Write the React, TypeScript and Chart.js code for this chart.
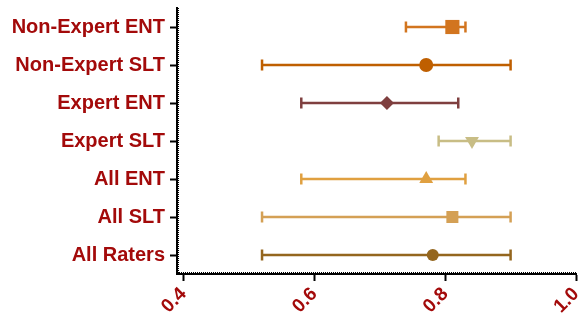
import React, { useEffect, useRef } from "react";
import { Chart, registerables } from "chart.js";

Chart.register(...registerables);

const categories = [
  "Non-Expert ENT",
  "Non-Expert SLT",
  "Expert ENT",
  "Expert SLT",
  "All ENT",
  "All SLT",
  "All Raters",
];
const means = [0.811, 0.771, 0.711, 0.841, 0.771, 0.811, 0.781];
const lowers = [0.74, 0.52, 0.58, 0.79, 0.58, 0.52, 0.52];
const uppers = [0.831, 0.9, 0.82, 0.9, 0.831, 0.9, 0.9];
const colors = ["#D2751F", "#BF5F00", "#7F3F3F", "#C8BD85", "#E0A040", "#D4A055", "#94661E"];
const markerStyles = ["rect", "circle", "rectRot", "triangle", "triangle", "rect", "circle"];
const markerRotations = [0, 0, 0, 180, 0, 0, 0];
const markerRadii = [10, 7, 7, 8, 8, 8.5, 6];
const xTicks = [0.4, 0.6, 0.8, 1.0];

const LABEL_COLOR = "#A30A0A";
const FONT = "'Liberation Sans', Arial, sans-serif";

const axisTexture = {
  id: "axisTexture",
  afterDraw(chart: any) {
    const { ctx, chartArea } = chart;
    ctx.save();
    ctx.strokeStyle = "#000";
    ctx.lineWidth = 1;
    ctx.setLineDash([1, 1]);
    ctx.beginPath();
    ctx.moveTo(chartArea.left + 1.5, chartArea.top);
    ctx.lineTo(chartArea.left + 1.5, chartArea.bottom);
    ctx.moveTo(chartArea.left, chartArea.bottom - 1.5);
    ctx.lineTo(chartArea.right, chartArea.bottom - 1.5);
    ctx.stroke();
    ctx.restore();
  },
};

export default function App() {
  const ref = useRef<HTMLCanvasElement | null>(null);

  useEffect(() => {
    document.body.style.margin = "0";
    const canvas = ref.current;
    if (!canvas) return;

    const errDatasets = categories.map((c, i) => ({
      type: "line" as const,
      data: [
        { x: lowers[i], y: c },
        { x: uppers[i], y: c },
      ],
      borderColor: colors[i],
      backgroundColor: colors[i],
      borderWidth: 2.5,
      pointStyle: "line",
      pointRotation: 90,
      pointRadius: 5.5,
      pointBorderWidth: 2.5,
      pointBorderColor: colors[i],
      showLine: true,
      order: 1,
    }));

    const markerDataset = {
      type: "scatter" as const,
      data: categories.map((c, i) => ({ x: means[i], y: c })),
      pointStyle: markerStyles,
      rotation: markerRotations,
      pointRadius: markerRadii,
      backgroundColor: colors,
      borderColor: colors,
      borderWidth: 0,
      order: 0,
    };

    const chart = new Chart(canvas, {
      type: "scatter",
      data: { datasets: [...errDatasets, markerDataset] as any },
      plugins: [axisTexture],
      options: {
        animation: false,
        responsive: false,
        layout: { autoPadding: false, padding: { top: 8, right: 3, left: 0, bottom: 0 } },
        plugins: { legend: { display: false }, tooltip: { enabled: false } },
        scales: {
          x: {
            type: "linear",
            min: 0.39,
            max: 1.0,
            afterBuildTicks: (s: any) => {
              s.ticks = xTicks.map((v) => ({ value: v }));
            },
            afterFit: (s: any) => {
              s.height = 46;
              s.paddingLeft = 0;
              s.paddingRight = 0;
            },
            grid: {
              drawOnChartArea: false,
              drawTicks: true,
              tickLength: 7,
              tickWidth: 2,
              tickColor: "#000",
            },
            border: { display: true, color: "#000", width: 2 },
            ticks: {
              minRotation: 45,
              maxRotation: 45,
              padding: 2,
              color: LABEL_COLOR,
              font: { family: FONT, size: 19, weight: "bold" },
              callback: (v: any) => Number(v).toFixed(1),
            },
          },
          y: {
            type: "category",
            labels: categories,
            offset: true,
            afterFit: (s: any) => {
              s.width = 177;
              s.paddingTop = 0;
              s.paddingBottom = 0;
            },
            grid: {
              drawOnChartArea: false,
              drawTicks: true,
              tickLength: 7,
              tickWidth: 2,
              tickColor: "#000",
              offset: false,
            },
            border: { display: true, color: "#000", width: 2 },
            ticks: {
              padding: 5,
              color: LABEL_COLOR,
              font: { family: FONT, size: 20, weight: "bold" },
            },
          },
        },
      },
    });
    return () => chart.destroy();
  }, []);

  return <canvas ref={ref} width={579} height={320} style={{ display: "block" }} />;
}
